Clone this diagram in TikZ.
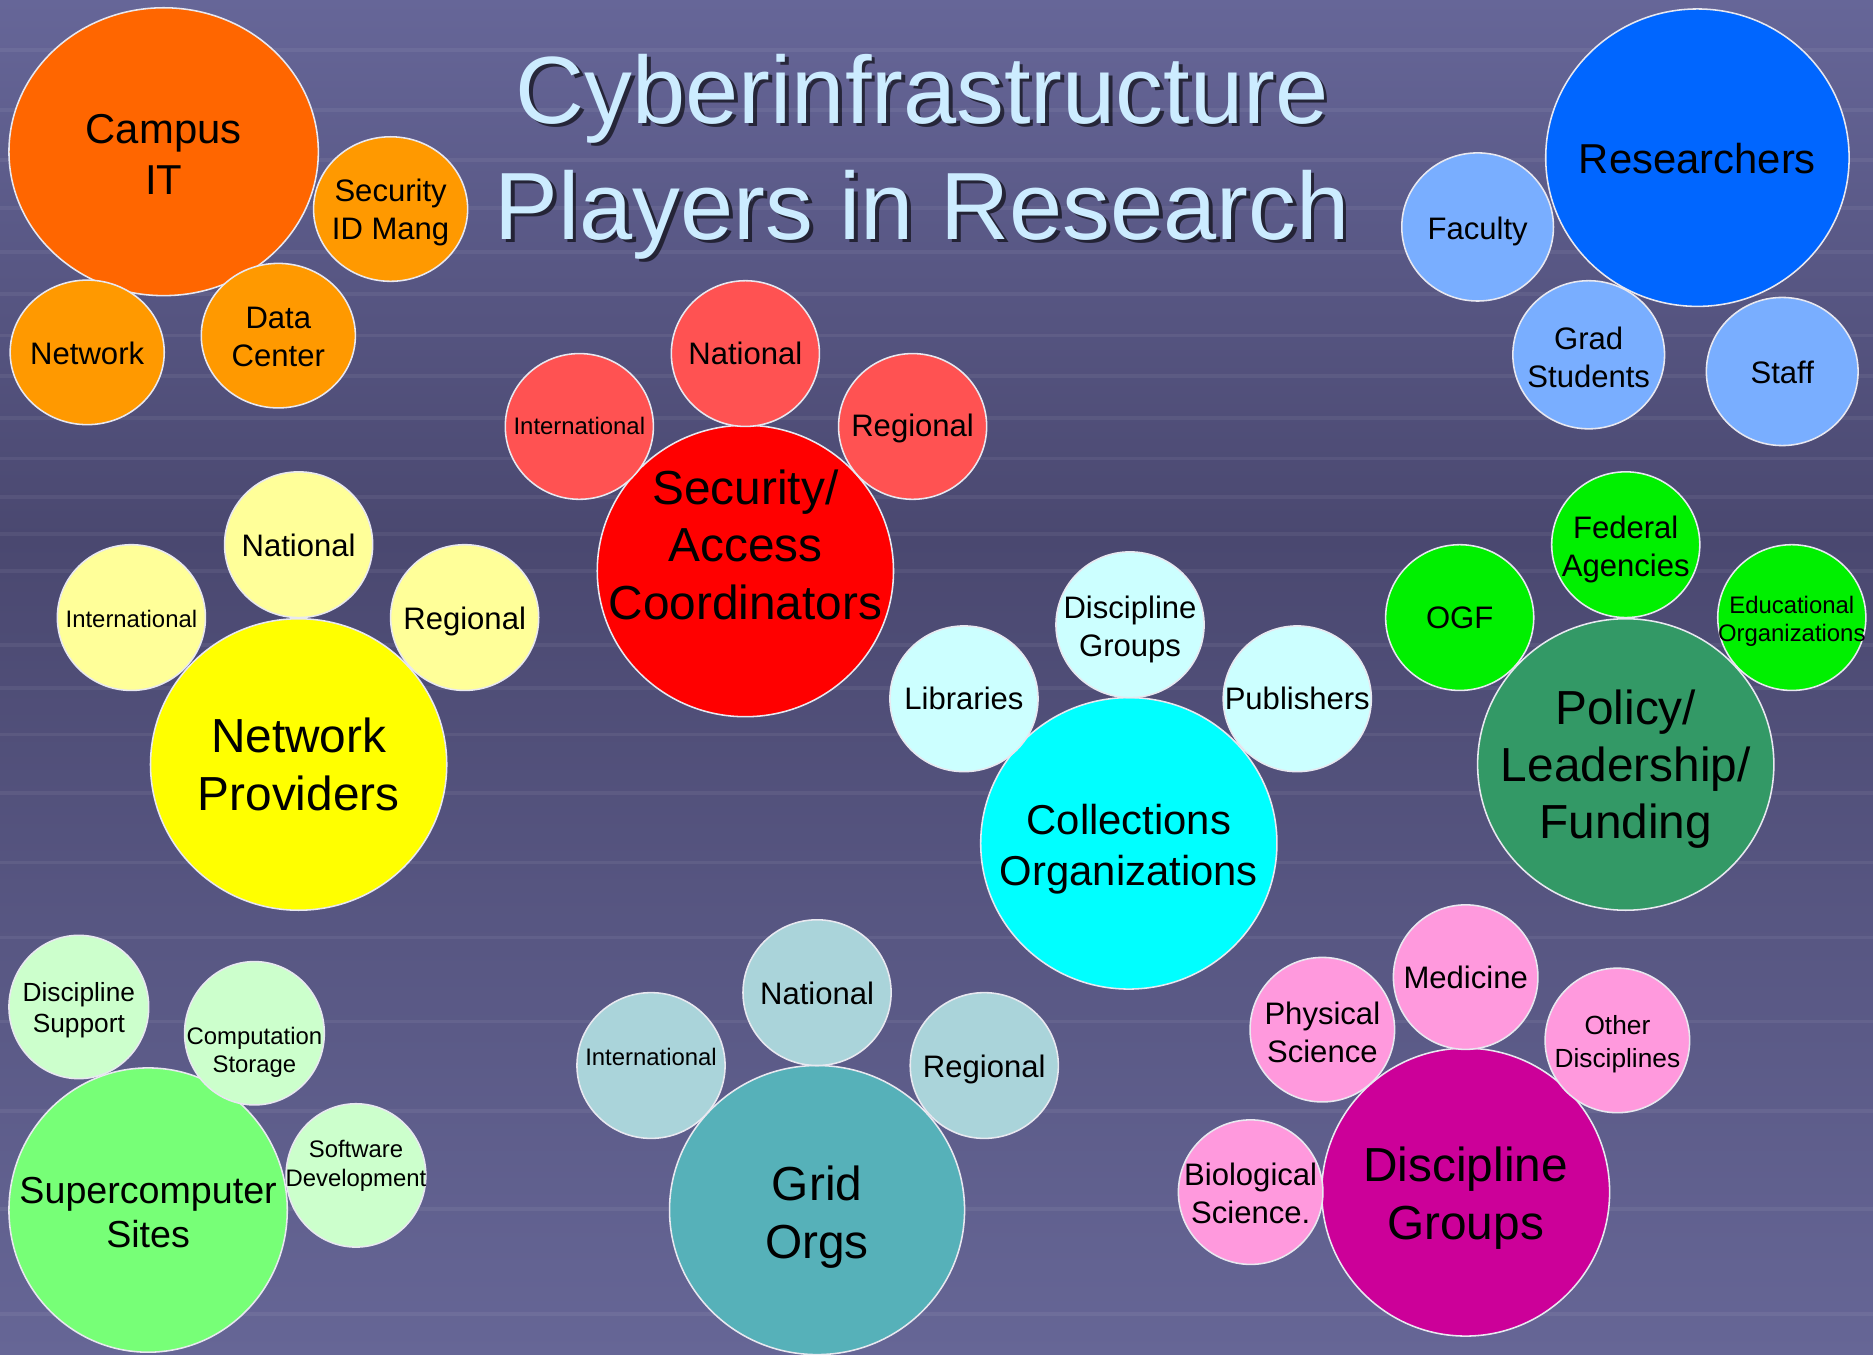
\documentclass[tikz,border=0pt]{standalone}
\usepackage{fontspec}
\setmainfont{Liberation Sans}
\usetikzlibrary{shapes.geometric}

\definecolor{bgtop}{RGB}{102,102,152}
\definecolor{bgmid}{RGB}{74,72,112}
\definecolor{bgbot}{RGB}{102,102,150}
\definecolor{rim}{RGB}{232,232,240}
\definecolor{titleblue}{RGB}{204,236,255}
\definecolor{campus}{HTML}{FF6600}
\definecolor{campusleaf}{HTML}{FF9900}
\definecolor{research}{HTML}{0066FF}
\definecolor{researchleaf}{HTML}{79AEFF}
\definecolor{secacc}{HTML}{FF0000}
\definecolor{secaccleaf}{HTML}{FF5252}
\definecolor{netprov}{HTML}{FFFF00}
\definecolor{netprovleaf}{HTML}{FFFF99}
\definecolor{collect}{HTML}{00FFFF}
\definecolor{collectleaf}{HTML}{CCFFFF}
\definecolor{policy}{HTML}{339966}
\definecolor{policyleaf}{HTML}{00F000}
\definecolor{super}{HTML}{77FF77}
\definecolor{superleaf}{HTML}{CCFFCC}
\definecolor{gridorg}{HTML}{56B1B9}
\definecolor{gridleaf}{HTML}{AAD4DA}
\definecolor{disc}{HTML}{CC0099}
\definecolor{discleaf}{HTML}{FF99DD}

\begin{document}
\begin{tikzpicture}[x=1pt, y=-1pt,
    player/.style={ellipse, draw=rim, line width=1.3pt, inner sep=0pt},
    hub/.style={player, minimum width=248pt, minimum height=244pt},
    leaf/.style={player, minimum width=124pt, minimum height=122pt},
    tag/.style={align=center, inner sep=0pt},
    hubtag/.style={tag, font=\fontsize{40}{48}\selectfont},
    midtag/.style={tag, font=\fontsize{35}{43}\selectfont},
    leaftag/.style={tag, font=\fontsize{26}{32}\selectfont},
    smalltag/.style={tag, font=\fontsize{22}{27}\selectfont},
    minitag/.style={tag, font=\fontsize{20}{24}\selectfont},
    titletag/.style={tag, font=\fontsize{80}{97}\selectfont}
]
\useasboundingbox (0,0) rectangle (1568,1134);

% Tlo
\shade[top color=bgtop, bottom color=bgmid] (0,0) rectangle (1568,450);
\shade[top color=bgmid, bottom color=bgbot] (0,450) rectangle (1568,1134);
\foreach \gy in {42,92,134,174,211,246,281,315,350,384,416,447,478,540,576,615,664,722,785,855,930,1012,1100}
    \draw[white, opacity=.06, line width=3pt] (0,\gy) -- (1568,\gy);

% Tytul
\node[titletag, text=black, opacity=.6] (title-shadow) at (775,134) {Cyberinfrastructure\\Players in Research};
\node[titletag, text=titleblue] (title) at (772,131) {Cyberinfrastructure\\Players in Research};

% Campus IT
\node[hub, fill=campus, minimum width=259pt, minimum height=241pt] (campus) at (137,127) {};
\node[midtag, yshift=-2pt] (campus-txt) at (campus) {Campus\\IT};
\node[leaf, fill=campusleaf, minimum width=129pt, minimum height=121pt] (secid) at (327,175) {};
\node[leaftag, yshift=-3pt] (secid-txt) at (secid) {Security\\ID Mang};
\node[leaf, fill=campusleaf, minimum width=129pt, minimum height=121pt] (cnet) at (73,295) {};
\node[leaftag, yshift=-1pt] (cnet-txt) at (cnet) {Network};
\node[leaf, fill=campusleaf, minimum width=129pt, minimum height=121pt] (datac) at (233,281) {};
\node[leaftag, yshift=-1pt] (datac-txt) at (datac) {Data\\Center};

% Researchers
\node[hub, fill=research, minimum width=254pt, minimum height=249pt] (res) at (1421,132) {};
\node[midtag, yshift=-1pt] (res-txt) at (res) {Researchers};
\node[leaf, fill=researchleaf, minimum width=127pt, minimum height=124pt] (fac) at (1237,190) {};
\node[leaftag, yshift=-4pt] (fac-txt) at (fac) {Faculty};
\node[leaf, fill=researchleaf, minimum width=127pt, minimum height=124pt] (grad) at (1330,297) {};
\node[leaftag, yshift=-2pt] (grad-txt) at (grad) {Grad\\Students};
\node[leaf, fill=researchleaf, minimum width=127pt, minimum height=124pt] (staff) at (1492,311) {};
\node[leaftag, yshift=-1pt] (staff-txt) at (staff) {Staff};

% Security/Access Coordinators
\node[hub, fill=secacc] (sac) at (624,478) {};
\node[hubtag] (sac-txt) at (624,456) {Security/\\Access\\Coordinators};
\node[leaf, fill=secaccleaf] (sac-nat) at (624,296) {};
\node[leaftag] (sac-nat-txt) at (sac-nat) {National};
\node[leaf, fill=secaccleaf] (sac-int) at (485,357) {};
\node[minitag] (sac-int-txt) at (sac-int) {International};
\node[leaf, fill=secaccleaf] (sac-reg) at (764,357) {};
\node[leaftag, yshift=-2pt] (sac-reg-txt) at (sac-reg) {Regional};

% Network Providers
\node[hub, fill=netprov] (np) at (250,640) {};
\node[hubtag] (np-txt) at (np) {Network\\Providers};
\node[leaf, fill=netprovleaf] (np-nat) at (250,456) {};
\node[leaftag, yshift=-1pt] (np-nat-txt) at (np-nat) {National};
\node[leaf, fill=netprovleaf] (np-int) at (110,517) {};
\node[minitag, yshift=-1pt] (np-int-txt) at (np-int) {International};
\node[leaf, fill=netprovleaf] (np-reg) at (389,517) {};
\node[leaftag, yshift=-3pt] (np-reg-txt) at (np-reg) {Regional};

% Collections Organizations
\node[hub, fill=collect] (col) at (945,706) {};
\node[midtag, yshift=-5pt] (col-txt) at (col) {Collections\\Organizations};
\node[leaf, fill=collectleaf] (col-dg) at (946,523) {};
\node[leaftag, yshift=-4pt] (col-dg-txt) at (col-dg) {Discipline\\Groups};
\node[leaf, fill=collectleaf] (col-lib) at (807,585) {};
\node[leaftag] (col-lib-txt) at (col-lib) {Libraries};
\node[leaf, fill=collectleaf] (col-pub) at (1086,585) {};
\node[leaftag] (col-pub-txt) at (col-pub) {Publishers};

% Policy/Leadership/Funding
\node[hub, fill=policy] (pol) at (1361,640) {};
\node[hubtag, yshift=-4pt] (pol-txt) at (pol) {Policy/\\Leadership/\\Funding};
\node[leaf, fill=policyleaf] (pol-fed) at (1361,456) {};
\node[leaftag, yshift=-4pt] (pol-fed-txt) at (pol-fed) {Federal\\Agencies};
\node[leaf, fill=policyleaf] (pol-ogf) at (1222,517) {};
\node[leaftag] (pol-ogf-txt) at (pol-ogf) {OGF};
\node[leaf, fill=policyleaf] (pol-edu) at (1500,517) {};
\node[minitag, font=\fontsize{20}{23}\selectfont, yshift=-3pt] (pol-edu-txt) at (pol-edu) {Educational\\Organizations};

% Supercomputer Sites
\node[hub, fill=super, minimum width=233pt, minimum height=238pt] (sc) at (124,1013) {};
\node[tag, font=\fontsize{31.5}{37}\selectfont, yshift=-2pt] (sc-txt) at (sc) {Supercomputer\\Sites};
\node[leaf, fill=superleaf, minimum width=117pt, minimum height=120pt] (sc-ds) at (66,843) {};
\node[smalltag, font=\fontsize{22}{26}\selectfont, yshift=-3pt] (sc-ds-txt) at (sc-ds) {Discipline\\Support};
\node[leaf, fill=superleaf, minimum width=117pt, minimum height=120pt] (sc-cs) at (213,865) {};
\node[minitag] (sc-cs-txt) at (213,881) {Computation\\Storage};
\node[leaf, fill=superleaf, minimum width=117pt, minimum height=120pt] (sc-sw) at (298,984) {};
\node[minitag, font=\fontsize{20}{25}\selectfont] (sc-sw-txt) at (298,976) {Software\\Development};

% Grid Orgs
\node[hub, fill=gridorg, minimum width=247pt, minimum height=242pt] (grid) at (684,1013) {};
\node[hubtag, yshift=-6pt] (grid-txt) at (grid) {Grid\\Orgs};
\node[leaf, fill=gridleaf] (grid-nat) at (684,831) {};
\node[leaftag, yshift=-1pt] (grid-nat-txt) at (grid-nat) {National};
\node[leaf, fill=gridleaf] (grid-int) at (545,892) {};
\node[minitag] (grid-int-txt) at (545,885) {International};
\node[leaf, fill=gridleaf] (grid-reg) at (824,892) {};
\node[leaftag, yshift=-3pt] (grid-reg-txt) at (grid-reg) {Regional};

% Discipline Groups
\node[hub, fill=disc, minimum width=241pt, minimum height=241pt] (dg) at (1227,998) {};
\node[hubtag, font=\fontsize{40}{49}\selectfont, yshift=-5pt] (dg-txt) at (dg) {Discipline\\Groups};
\node[leaf, fill=discleaf, minimum width=121pt, minimum height=121pt] (dg-med) at (1227,818) {};
\node[leaftag] (dg-med-txt) at (dg-med) {Medicine};
\node[leaf, fill=discleaf, minimum width=121pt, minimum height=121pt] (dg-phys) at (1107,862) {};
\node[leaftag, yshift=-2pt] (dg-phys-txt) at (dg-phys) {Physical\\Science};
\node[leaf, fill=discleaf, minimum width=121pt, minimum height=121pt] (dg-oth) at (1354,871) {};
\node[smalltag, font=\fontsize{22}{28}\selectfont, yshift=-3pt] (dg-oth-txt) at (dg-oth) {Other\\Disciplines};
\node[leaf, fill=discleaf, minimum width=121pt, minimum height=121pt] (dg-bio) at (1047,998) {};
\node[leaftag, yshift=-1pt] (dg-bio-txt) at (dg-bio) {Biological\\Science.};

\end{tikzpicture}
\end{document}
